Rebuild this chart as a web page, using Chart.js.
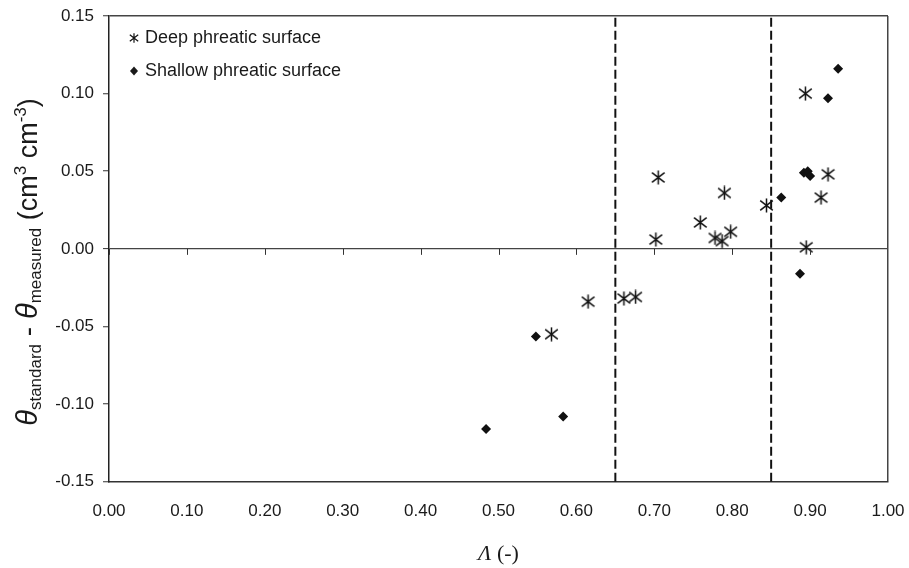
<!DOCTYPE html>
<html>
<head>
<meta charset="utf-8">
<script src="https://cdn.jsdelivr.net/npm/chart.js@4/dist/chart.umd.min.js"></script>
<style>
  html, body { margin: 0; padding: 0; background: #fff; }
  #wrap { width: 909px; height: 568px; position: relative; }
</style>
</head>
<body>
<div id="wrap"><canvas id="c" width="909" height="568"></canvas></div>
<script>
// Lambda values and theta differences, deep phreatic surface
const deepX = [0.568, 0.615, 0.661, 0.676, 0.702, 0.705, 0.759, 0.778, 0.787, 0.798, 0.790, 0.844, 0.894, 0.895, 0.914, 0.923];
const deepY = [-0.055, -0.034, -0.032, -0.031, 0.006, 0.046, 0.017, 0.007, 0.005, 0.011, 0.036, 0.028, 0.100, 0.001, 0.033, 0.048];

// Lambda values and theta differences, shallow phreatic surface
const shallowX = [0.484, 0.548, 0.583, 0.863, 0.887, 0.892, 0.897, 0.900, 0.923, 0.936];
const shallowY = [-0.116, -0.0565, -0.108, 0.033, -0.016, 0.049, 0.050, 0.047, 0.097, 0.116];

// Lambda thresholds marked by dashed vertical lines
const thresholds = [0.65, 0.85];

// Axis ranges and tick steps
const xTicks = [0.0, 0.1, 0.2, 0.3, 0.4, 0.5, 0.6, 0.7, 0.8, 0.9, 1.0];
const yTicks = [-0.15, -0.10, -0.05, 0.00, 0.05, 0.10, 0.15];

const seriesNames = ['Deep phreatic surface', 'Shallow phreatic surface'];

const SANS = '"Liberation Sans", Arial, sans-serif';
const SERIF = '"Liberation Serif", "Times New Roman", serif';
const INK = '#1a1a1a';

// Asterisk marker: an X crossed by a vertical bar
function makeAsterisk(size, lw) {
  const c = document.createElement('canvas');
  c.width = size; c.height = size;
  const g = c.getContext('2d');
  g.strokeStyle = '#111';
  g.lineWidth = lw;
  const m = size / 2;
  const a = size * 0.42, b = size * 0.32;
  g.beginPath();
  g.moveTo(m, m - size * 0.47); g.lineTo(m, m + size * 0.47);
  g.moveTo(m - a, m - b); g.lineTo(m + a, m + b);
  g.moveTo(m + a, m - b); g.lineTo(m - a, m + b);
  g.stroke();
  return c;
}
const asterisk = makeAsterisk(15, 1.5);
const asteriskSmall = makeAsterisk(10, 1.2);

const toPts = (xs, ys) => xs.map((x, i) => ({ x: x, y: ys[i] }));

const dashSets = thresholds.map(t => ({
  type: 'line',
  data: [{ x: t, y: yTicks[0] }, { x: t, y: yTicks[yTicks.length - 1] }],
  borderColor: '#111',
  borderWidth: 2,
  borderDash: [9, 4],
  pointRadius: 0,
  fill: false,
  order: 3
}));

// Axis titles, zero-line ticks and the in-plot legend
const decorations = {
  id: 'decorations',
  afterDraw(chart) {
    const ctx = chart.ctx;
    const xs = chart.scales.x, ys = chart.scales.y;
    const area = chart.chartArea;
    const y0 = ys.getPixelForValue(0);

    // tick marks hanging from the zero line
    ctx.save();
    ctx.strokeStyle = '#333';
    ctx.lineWidth = 1;
    xTicks.slice(0, -1).forEach(v => {
      const px = Math.round(xs.getPixelForValue(v)) + 0.5;
      ctx.beginPath();
      ctx.moveTo(px, y0);
      ctx.lineTo(px, y0 + 6);
      ctx.stroke();
    });
    ctx.restore();

    // legend
    ctx.save();
    ctx.fillStyle = INK;
    ctx.font = '18px ' + SANS;
    ctx.textBaseline = 'middle';
    const lx = area.left + 25, tx = area.left + 36;
    ctx.drawImage(asteriskSmall, lx - 5, 38 - 5);
    ctx.fillText(seriesNames[0], tx, 38);
    ctx.beginPath();
    ctx.moveTo(lx, 71 - 4.5); ctx.lineTo(lx + 4, 71); ctx.lineTo(lx, 71 + 4.5); ctx.lineTo(lx - 4, 71);
    ctx.closePath(); ctx.fill();
    ctx.fillText(seriesNames[1], tx, 71);
    ctx.restore();

    // x axis title
    ctx.save();
    ctx.fillStyle = INK;
    ctx.textBaseline = 'alphabetic';
    const cx = (area.left + area.right) / 2;
    ctx.font = 'italic 22px ' + SERIF;
    const wL = ctx.measureText('\u039B').width;
    ctx.font = '22px ' + SERIF;
    const wR = ctx.measureText(' (-)').width;
    let x0 = cx - (wL + wR) / 2;
    ctx.font = 'italic 22px ' + SERIF;
    ctx.fillText('\u039B', x0, 560);
    ctx.font = '22px ' + SERIF;
    ctx.fillText(' (-)', x0 + wL, 560);
    ctx.restore();

    // y axis title with sub- and superscripts
    const parts = [
      { t: '\u03B8', f: 'italic 29px ' + SANS, dy: 0 },
      { t: 'standard', f: '17px ' + SANS, dy: 4 },
      { t: ' - ', f: '28px ' + SANS, dy: 0 },
      { t: '\u03B8', f: 'italic 29px ' + SANS, dy: 0 },
      { t: 'measured', f: '17px ' + SANS, dy: 4 },
      { t: ' (cm', f: '27px ' + SANS, dy: 0 },
      { t: '3', f: '17px ' + SANS, dy: -11 },
      { t: ' cm', f: '27px ' + SANS, dy: 0 },
      { t: '-3', f: '17px ' + SANS, dy: -11 },
      { t: ')', f: '27px ' + SANS, dy: 0 }
    ];
    ctx.save();
    ctx.fillStyle = INK;
    ctx.textBaseline = 'alphabetic';
    let total = 0;
    parts.forEach(p => { ctx.font = p.f; p.w = ctx.measureText(p.t).width; total += p.w; });
    ctx.translate(37, 262);
    ctx.rotate(-Math.PI / 2);
    let px = -total / 2;
    parts.forEach(p => {
      ctx.font = p.f;
      ctx.fillText(p.t, px, p.dy);
      px += p.w;
    });
    ctx.restore();
  }
};

new Chart(document.getElementById('c'), {
  type: 'scatter',
  data: {
    datasets: [
      {
        label: seriesNames[0],
        data: toPts(deepX, deepY),
        pointStyle: asterisk,
        pointRadius: 7,
        order: 1
      },
      {
        label: seriesNames[1],
        data: toPts(shallowX, shallowY),
        pointStyle: 'rectRot',
        pointRadius: 5,
        backgroundColor: '#111',
        borderColor: '#111',
        borderWidth: 0,
        order: 2
      },
      ...dashSets
    ]
  },
  plugins: [decorations],
  options: {
    responsive: false,
    animation: false,
    devicePixelRatio: 1,
    layout: { padding: { top: 16, right: 21, left: 0, bottom: 0 } },
    plugins: {
      legend: { display: false },
      tooltip: { enabled: false },
      title: { display: false }
    },
    scales: {
      x: {
        type: 'linear',
        min: xTicks[0],
        max: xTicks[xTicks.length - 1],
        afterFit(s) { s.height = 86.3; s.paddingLeft = 0; s.paddingRight = 0; },
        afterBuildTicks(s) { s.ticks = xTicks.map(v => ({ value: v })); },
        border: { display: true, color: '#333', width: 1.5 },
        grid: {
          display: true,
          drawTicks: false,
          color: c => (c.tick && Math.abs(c.tick.value - 1) < 1e-9) ? '#444' : 'rgba(0,0,0,0)',
          lineWidth: 1.5
        },
        ticks: {
          padding: 19,
          color: INK,
          font: { family: SANS, size: 17 },
          maxRotation: 0,
          callback: v => Number(v).toFixed(2)
        }
      },
      y: {
        type: 'linear',
        min: yTicks[0],
        max: yTicks[yTicks.length - 1],
        afterFit(s) { s.width = 109; s.paddingTop = 0; s.paddingBottom = 0; },
        afterBuildTicks(s) { s.ticks = yTicks.map(v => ({ value: v })); },
        border: { display: true, color: '#222', width: 1.5 },
        grid: {
          display: true,
          drawTicks: true,
          tickLength: 6,
          tickColor: '#333',
          tickWidth: 1,
          color: c => {
            if (!c.tick) return 'rgba(0,0,0,0)';
            const v = c.tick.value;
            return (Math.abs(v) < 1e-9 || Math.abs(v - 0.15) < 1e-9) ? '#444' : 'rgba(0,0,0,0)';
          },
          lineWidth: c => (c.tick && Math.abs(c.tick.value) < 1e-9) ? 1.2 : 1.5
        },
        ticks: {
          padding: 9,
          color: INK,
          font: { family: SANS, size: 17 },
          callback: v => Number(v).toFixed(2)
        }
      }
    }
  }
});
</script>
</body>
</html>
